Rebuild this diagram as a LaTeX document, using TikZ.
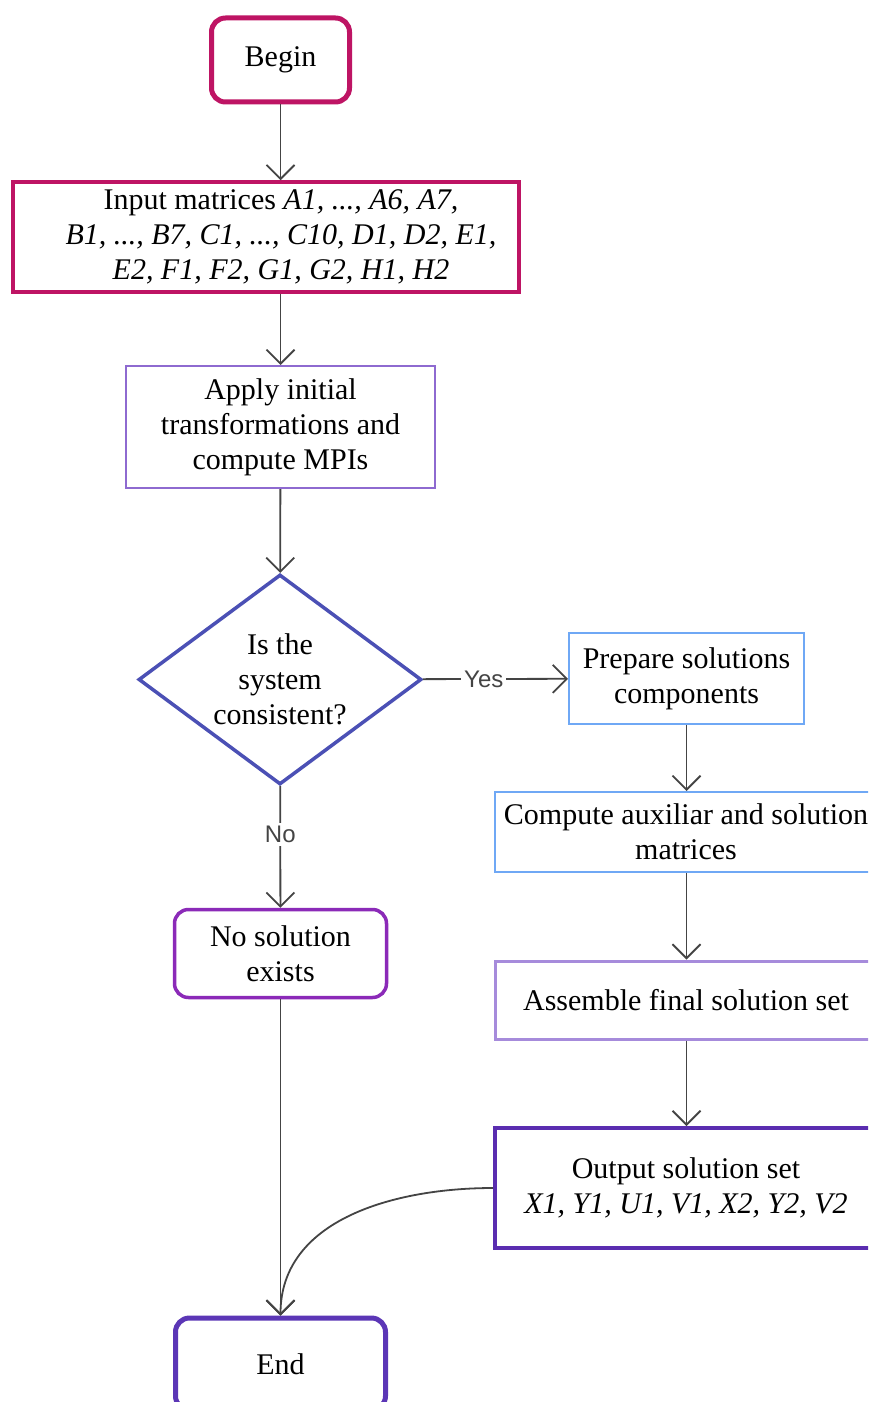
\documentclass[tikz,border=0pt]{standalone}
\usepackage{fontspec}
\setmainfont{Liberation Serif}
\newfontfamily\labelfont{Liberation Sans}
\usetikzlibrary{shapes.geometric,arrows.meta}
\definecolor{cMagenta}{HTML}{BE1464}
\definecolor{cApply}{HTML}{8E6AD0}
\definecolor{cDiamond}{HTML}{4B50B5}
\definecolor{cLightBlue}{HTML}{6FA8F5}
\definecolor{cAssemble}{HTML}{A68BDB}
\definecolor{cOutput}{HTML}{5A2DB0}
\definecolor{cNoSol}{HTML}{8B2AB8}
\definecolor{cEnd}{HTML}{5B36B6}
\definecolor{cArrow}{HTML}{444444}
\begin{document}
\begin{tikzpicture}[x=1pt,y=-1pt,
  box/.style={draw, align=center, inner sep=0pt, font=\fontsize{30}{35}\selectfont},
  roundbox/.style={box, rounded corners=14pt},
  decision/.style={box, diamond, aspect=1.34},
  conn/.style={draw=cArrow, line width=1.8pt, -{Straight Barb[length=14pt,width=28pt,line width=1.8pt]}},
  lbl/.style={font=\labelfont\fontsize{24}{28}\selectfont, text=cArrow, fill=white, inner sep=3pt}
]
\clip (0,0) rectangle (868,1402);
\fill[white] (0,0) rectangle (868,1402);

\node[roundbox, draw=cMagenta, line width=5pt, minimum width=138pt, minimum height=84pt] (begin) at (280.5,60) {Begin};
\node[box, draw=cMagenta, line width=3.5pt, minimum width=506pt, minimum height=110pt] (input) at (266,237)
  {\hspace*{30pt}Input matrices \textit{A1, ..., A6, A7,}\\
   \hspace*{30pt}\textit{B1, ..., B7, C1, ..., C10, D1, D2, E1,}\\
   \hspace*{30pt}\textit{E2, F1, F2, G1, G2, H1, H2}};
\node[box, draw=cApply, line width=2pt, minimum width=309pt, minimum height=122pt] (apply) at (280.5,427)
  {Apply initial\\transformations and\\compute MPIs};
\node[decision, draw=cDiamond, line width=3.5pt, minimum width=283pt, minimum height=210pt] (cons) at (280,679.5)
  {Is the\\system\\consistent?};
\node[box, draw=cLightBlue, line width=2pt, minimum width=235pt, minimum height=91pt] (prep) at (686.5,678.5)
  {Prepare solutions\\components};
\node[box, draw=cLightBlue, line width=2pt, minimum width=382pt, minimum height=80pt] (comp) at (686,832)
  {Compute auxiliar and solution\\matrices};
\node[box, draw=cAssemble, line width=3pt, minimum width=382pt, minimum height=78pt] (asm) at (686,1000)
  {Assemble final solution set};
\node[box, draw=cOutput, line width=4pt, minimum width=382pt, minimum height=120pt] (out) at (686,1188)
  {Output solution set\\\textit{X1, Y1, U1, V1, X2, Y2, V2}};
\node[roundbox, draw=cNoSol, line width=3.5pt, minimum width=212pt, minimum height=88pt] (nosol) at (280.5,953.5)
  {No solution\\exists};
\node[roundbox, draw=cEnd, line width=5pt, minimum width=210pt, minimum height=92pt] (end) at (280.5,1364)
  {End};

\path[conn] (begin) -- (begin |- input.north);
\path[conn] (input.south -| begin) -- (apply);
\path[conn] (apply) -- (cons);
\path[conn] (cons) -- node[lbl, pos=0.42] {Yes} (prep);
\path[conn] (cons) -- node[lbl, pos=0.4] {No} (nosol);
\path[conn] (prep) -- (prep |- comp.north);
\path[conn] (comp.south -| prep) -- (asm.north -| prep);
\path[conn] (asm.south -| prep) -- (out.north -| prep);
\path[conn] (nosol) -- (end);
\path[conn] (out.west) to[out=180, in=90] (end.north);
\end{tikzpicture}
\end{document}
